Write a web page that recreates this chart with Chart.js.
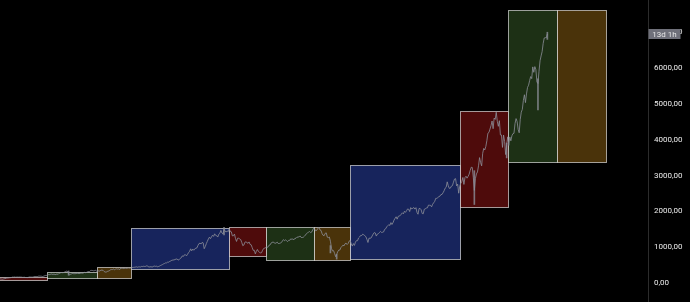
<!DOCTYPE html>
<html>
<head>
<meta charset="utf-8">
<script src="https://cdn.jsdelivr.net/npm/chart.js@4"></script>
<style>
    html, body { margin: 0; padding: 0; background: #000; }
    #chart { display: block; }
</style>
</head>
<body>
<canvas id="chart" width="690" height="302"></canvas>
<script>
// Monthly index closes, month index counted from Jan 1980
const firstMonth = 12; // Jan 1981
const closes = [
    129.6, 131.3, 136.0, 132.8, 132.6, 131.2, 130.9, 122.8, 116.2, 121.9, 126.4, 122.6, // 1981
    120.4, 113.1, 112.0, 116.4, 111.9, 109.6, 107.1, 119.5, 120.4, 133.7, 138.5, 140.6, // 1982
    145.3, 148.1, 153.0, 164.4, 162.4, 168.1, 162.6, 164.4, 166.1, 163.6, 166.4, 164.9, // 1983
    163.4, 157.1, 159.2, 160.1, 150.6, 153.2, 150.7, 166.7, 166.1, 166.1, 163.6, 167.2, // 1984
    179.6, 181.2, 180.7, 179.8, 189.6, 191.9, 190.9, 188.6, 182.1, 189.8, 202.2, 211.3, // 1985
    211.8, 226.9, 238.9, 235.5, 247.4, 250.8, 236.1, 252.9, 231.3, 244.0, 249.2, 242.2, // 1986
    274.1, 284.2, 291.7, 288.4, 290.1, 304.0, 318.7, 329.8, 321.8, 251.8, 230.3, 247.1, // 1987
    257.1, 267.8, 258.9, 261.3, 262.2, 273.5, 272.0, 261.5, 271.9, 279.0, 273.7, 277.7, // 1988
    297.5, 288.9, 294.9, 309.6, 320.5, 318.0, 346.1, 351.5, 349.2, 340.4, 346.0, 353.4, // 1989
    329.1, 331.9, 339.9, 330.8, 361.2, 358.0, 356.2, 322.6, 306.1, 304.0, 322.2, 330.2, // 1990
    343.9, 367.1, 375.2, 375.4, 389.8, 371.2, 387.8, 395.4, 387.9, 392.5, 375.2, 417.1, // 1991
    408.8, 412.7, 403.7, 415.0, 415.4, 408.1, 424.2, 414.0, 417.8, 418.7, 431.4, 435.7, // 1992
    438.8, 443.4, 451.7, 440.2, 450.2, 450.5, 448.1, 463.6, 458.9, 467.8, 461.8, 466.5, // 1993
    481.6, 467.1, 445.8, 450.9, 456.5, 444.3, 458.3, 475.5, 462.7, 472.4, 453.7, 459.3, // 1994
    470.4, 487.4, 500.7, 514.7, 533.4, 544.8, 562.1, 561.9, 584.4, 581.5, 605.4, 615.9, // 1995
    636.0, 640.4, 645.5, 654.2, 669.1, 670.6, 640.0, 652.0, 687.3, 705.3, 757.0, 740.7, // 1996
    786.2, 790.8, 757.1, 801.3, 848.3, 885.1, 954.3, 899.5, 947.3, 914.6, 955.4, 970.4, // 1997
    980.3, 1049.3, 1101.8, 1111.8, 1090.8, 1133.8, 1120.7, 957.3, 1017.0, 1098.7, 1163.6, 1229.2, // 1998
    1279.6, 1238.3, 1286.4, 1335.2, 1301.8, 1372.7, 1328.7, 1320.4, 1282.7, 1362.9, 1388.9, 1469.3, // 1999
    1394.5, 1366.4, 1498.6, 1452.4, 1420.6, 1454.6, 1430.8, 1517.7, 1436.5, 1429.4, 1315.0, 1320.3, // 2000
    1366.0, 1239.9, 1160.3, 1249.5, 1255.8, 1224.4, 1211.2, 1133.6, 1040.9, 1059.8, 1139.5, 1148.1, // 2001
    1130.2, 1106.7, 1147.4, 1076.9, 1067.1, 989.8, 911.6, 916.1, 815.3, 885.8, 936.3, 879.8, // 2002
    855.7, 841.2, 848.2, 916.9, 963.6, 974.5, 990.3, 1008.0, 996.0, 1050.7, 1058.2, 1111.9, // 2003
    1131.1, 1144.9, 1126.2, 1107.3, 1120.7, 1140.8, 1101.7, 1104.2, 1114.6, 1130.2, 1173.8, 1211.9, // 2004
    1181.3, 1203.6, 1180.6, 1156.9, 1191.5, 1191.3, 1234.2, 1220.3, 1228.8, 1207.0, 1249.5, 1248.3, // 2005
    1280.1, 1280.7, 1294.8, 1310.6, 1270.1, 1270.2, 1276.7, 1303.8, 1335.9, 1377.9, 1400.6, 1418.3, // 2006
    1438.2, 1406.8, 1420.9, 1482.4, 1530.6, 1503.4, 1455.3, 1474.0, 1526.8, 1549.4, 1481.1, 1468.4, // 2007
    1378.6, 1330.6, 1322.7, 1385.6, 1400.4, 1280.0, 1267.4, 1282.8, 1166.4, 968.8, 896.2, 903.3, // 2008
    825.9, 735.1, 797.9, 872.8, 919.1, 919.3, 987.5, 1020.6, 1057.1, 1036.2, 1095.6, 1115.1, // 2009
    1073.9, 1104.5, 1169.4, 1186.7, 1089.4, 1030.7, 1101.6, 1049.3, 1141.2, 1183.3, 1180.6, 1257.6, // 2010
    1286.1, 1327.2, 1325.8, 1363.6, 1345.2, 1320.6, 1292.3, 1218.9, 1131.4, 1253.3, 1247.0, 1257.6, // 2011
    1312.4, 1365.7, 1408.5, 1397.9, 1310.3, 1362.2, 1379.3, 1406.6, 1440.7, 1412.2, 1416.2, 1426.2, // 2012
    1498.1, 1514.7, 1569.2, 1597.6, 1630.7, 1606.3, 1685.7, 1633.0, 1681.6, 1756.5, 1805.8, 1848.4, // 2013
    1782.6, 1859.5, 1872.3, 1884.0, 1923.6, 1960.2, 1930.7, 2003.4, 1972.3, 2018.1, 2067.6, 2058.9, // 2014
    1995.0, 2104.5, 2067.9, 2085.5, 2107.4, 2063.1, 2103.8, 1972.2, 1920.0, 2079.4, 2080.4, 2043.9, // 2015
    1940.2, 1932.2, 2059.7, 2065.3, 2097.0, 2098.9, 2173.6, 2171.0, 2168.3, 2126.2, 2198.8, 2238.8, // 2016
    2278.9, 2363.6, 2362.7, 2384.2, 2411.8, 2423.4, 2470.3, 2471.7, 2519.4, 2575.3, 2647.6, 2673.6, // 2017
    2823.8, 2713.8, 2640.9, 2648.1, 2705.3, 2718.4, 2816.3, 2901.5, 2914.0, 2711.7, 2760.2, 2506.9, // 2018
    2704.1, 2784.5, 2834.4, 2945.8, 2752.1, 2941.8, 2980.4, 2926.5, 2976.7, 3037.6, 3141.0, 3230.8, // 2019
    3225.5, 2954.2, 2584.6, 2912.4, 3044.3, 3100.3, 3271.1, 3500.3, 3363.0, 3270.0, 3621.6, 3756.1, // 2020
    3714.2, 3811.2, 3972.9, 4181.2, 4204.1, 4297.5, 4395.3, 4522.7, 4307.5, 4605.4, 4567.0, 4766.2, // 2021
    4515.6, 4373.9, 4530.4, 4131.9, 4132.2, 3785.4, 4130.3, 3955.0, 3585.6, 3872.0, 4080.1, 3839.5, // 2022
    4076.6, 3970.2, 4109.3, 4169.5, 4179.8, 4450.4, 4589.0, 4507.7, 4288.1, 4193.8, 4567.8, 4769.8, // 2023
    4845.7, 5096.3, 5254.4, 5035.7, 5277.5, 5460.5, 5522.3, 5648.4, 5762.5, 5705.5, 6032.4, 5881.6, // 2024
    6040.5, 5954.5, 5611.9, 5569.1, 5911.7, 6205.0, 6339.4, 6460.3, 6688.5, 6840.0, 6849.0, 6845.0, // 2025
    6950.0 // 2026
];

// Long wicks that stand out from the close line
const wickMonths = [93, 242, 344, 350, 482, 513, 543, 552];
const wickLows = [216, 1339, 840, 667, 2192, 3492, 4835, 6800];
const wickHighs = [336, 1553, 1044, 798, 3136, 3906, 5700, 7000];

// Cycle zones (month index start/end, price high/low)
const zoneStarts = [0, 72, 120, 153, 247, 282, 328, 363, 468, 514, 561];
const zoneEnds = [72, 120, 153, 247, 282, 328, 363, 468, 514, 561, 608];
const zoneHighs = [160, 315, 438, 1527, 1555, 1555, 1555, 3293, 4800, 7611, 7611];
const zoneLows = [75, 131, 131, 382, 754, 650, 650, 661, 2135, 3385, 3385];
const zoneKinds = ['red', 'green', 'orange', 'blue', 'red', 'green', 'orange', 'blue', 'red', 'green', 'orange'];

// Price scale ticks
const priceTicks = [0, 1000, 2000, 3000, 4000, 5000, 6000, 7000];

const countdownText = '13d 1h';

const zoneColors = {
    red: '#4e0b0b',
    green: '#1d3015',
    orange: '#4a330a',
    blue: '#17245c'
};

const lineColor = 'rgba(140,143,152,0.8)';

const pricePoints = closes.map((v, i) => ({ x: firstMonth + i, y: v }));
const wickPoints = wickMonths.map((m, i) => ({ x: m, y: [wickLows[i], wickHighs[i]] }));

// Draws the coloured zone rectangles behind the price
const zonesPlugin = {
    id: 'zones',
    beforeDatasetsDraw(chart) {
        const ctx = chart.ctx;
        const xs = chart.scales.x;
        const ys = chart.scales.y;
        const area = chart.chartArea;
        ctx.save();
        ctx.beginPath();
        ctx.rect(area.left, area.top, area.right - area.left, area.bottom - area.top);
        ctx.clip();
        zoneStarts.forEach((start, i) => {
            const x0 = Math.round(xs.getPixelForValue(start)) + 0.5;
            const x1 = Math.round(xs.getPixelForValue(zoneEnds[i])) + 0.5;
            const y0 = Math.round(ys.getPixelForValue(zoneHighs[i])) + 0.5;
            const y1 = Math.round(ys.getPixelForValue(zoneLows[i])) + 0.5;
            ctx.fillStyle = zoneColors[zoneKinds[i]];
            ctx.fillRect(x0, y0, x1 - x0, y1 - y0);
            ctx.strokeStyle = 'rgba(235,235,235,0.65)';
            ctx.lineWidth = 1;
            ctx.strokeRect(x0, y0, x1 - x0, y1 - y0);
        });
        ctx.restore();
    }
};

// Countdown badge on the price scale
const countdownPlugin = {
    id: 'countdown',
    afterDraw(chart) {
        const ctx = chart.ctx;
        const ys = chart.scales.y;
        const y = ys.getPixelForValue(closes[closes.length - 1]);
        const left = ys.left + 0.5;
        ctx.save();
        ctx.fillStyle = '#6f707a';
        ctx.fillRect(left, Math.round(y - 5), 32, 10);
        ctx.fillStyle = '#e6e6e6';
        ctx.font = '8px Roboto';
        ctx.textBaseline = 'middle';
        ctx.textAlign = 'center';
        ctx.fillText(countdownText, left + 16, Math.round(y) + 0.5);
        ctx.restore();
    }
};

new Chart(document.getElementById('chart'), {
    type: 'line',
    data: {
        datasets: [{
            type: 'line',
            data: pricePoints,
            borderColor: lineColor,
            borderWidth: 1,
            pointRadius: 0,
            tension: 0
        }, {
            type: 'bar',
            data: wickPoints,
            backgroundColor: lineColor,
            barThickness: 1,
            borderWidth: 0
        }]
    },
    options: {
        responsive: false,
        animation: false,
        layout: { padding: 0 },
        plugins: {
            legend: { display: false },
            tooltip: { enabled: false }
        },
        scales: {
            x: {
                type: 'linear',
                display: false,
                min: 27.2,
                max: 648.5,
                offset: false
            },
            y: {
                type: 'linear',
                position: 'right',
                min: -530,
                max: 7900,
                afterBuildTicks: (scale) => {
                    scale.ticks = priceTicks.map(v => ({ value: v }));
                },
                afterFit: (scale) => {
                    scale.width = 42;
                    scale.paddingTop = 0;
                    scale.paddingBottom = 0;
                },
                grid: { display: false, drawTicks: false },
                border: { display: true, color: '#2c2c2c', width: 1 },
                ticks: {
                    autoSkip: false,
                    padding: 6,
                    color: '#ececec',
                    font: { family: 'Roboto', size: 8 },
                    callback: (v) => v + ',00'
                }
            }
        }
    },
    plugins: [zonesPlugin, countdownPlugin]
});
</script>
</body>
</html>
